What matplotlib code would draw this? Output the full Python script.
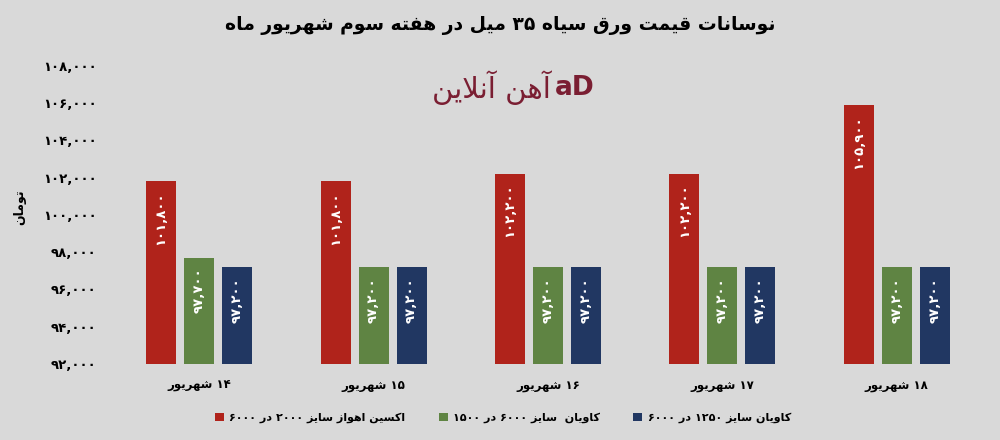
import matplotlib
matplotlib.use('Agg')
import matplotlib.pyplot as plt
import numpy as np

# data
days = ['۱۴ شهریور', '۱۵ شهریور', '۱۶ شهریور', '۱۷ شهریور', '۱۸ شهریور']
series_names = ['اکسین اهواز سایز ۲۰۰۰ در ۶۰۰۰',
                'کاویان  سایز ۶۰۰۰ در ۱۵۰۰',
                'کاویان سایز ۱۲۵۰ در ۶۰۰۰']
oxin = [101800, 101800, 102200, 102200, 105900]
kavian_1500 = [97700, 97200, 97200, 97200, 97200]
kavian_1250 = [97200, 97200, 97200, 97200, 97200]
title = 'نوسانات قیمت ورق سیاه ۳۵ میل در هفته سوم شهریور ماه'
ylabel = 'تومان'
logo_text = 'آهن آنلاین'

colors = ['#B0231B', '#5F8443', '#213762']
BG = '#D9D9D9'

# ---- minimal persian shaping (matplotlib has no bidi / shaping) ----
FORMS = {
    'ا': ('\uFE8D', '\uFE8E', None, None),
    'آ': ('\uFE81', '\uFE82', None, None),
    'د': ('\uFEA9', '\uFEAA', None, None),
    'ر': ('\uFEAD', '\uFEAE', None, None),
    'ز': ('\uFEAF', '\uFEB0', None, None),
    'و': ('\uFEED', '\uFEEE', None, None),
    'ب': ('\uFE8F', '\uFE90', '\uFE91', '\uFE92'),
    'ت': ('\uFE95', '\uFE96', '\uFE97', '\uFE98'),
    'س': ('\uFEB1', '\uFEB2', '\uFEB3', '\uFEB4'),
    'ش': ('\uFEB5', '\uFEB6', '\uFEB7', '\uFEB8'),
    'ف': ('\uFED1', '\uFED2', '\uFED3', '\uFED4'),
    'ق': ('\uFED5', '\uFED6', '\uFED7', '\uFED8'),
    'ل': ('\uFEDD', '\uFEDE', '\uFEDF', '\uFEE0'),
    'م': ('\uFEE1', '\uFEE2', '\uFEE3', '\uFEE4'),
    'ن': ('\uFEE5', '\uFEE6', '\uFEE7', '\uFEE8'),
    'ه': ('\uFEE9', '\uFEEA', '\uFEEB', '\uFEEC'),
    'ی': ('\uFBFC', '\uFBFD', '\uFBFE', '\uFBFF'),
    'ک': ('\uFB8E', '\uFB8F', '\uFB90', '\uFB91'),
}
LAM_ALEF = {'ا': ('\uFEFB', '\uFEFC'), 'آ': ('\uFEF5', '\uFEF6')}


def dual(c):
    return c in FORMS and FORMS[c][2] is not None


def shape(s):
    out = []
    i = 0
    while i < len(s):
        ch = s[i]
        if ch not in FORMS:
            out.append(ch)
            i += 1
            continue
        prev_join = i > 0 and dual(s[i - 1])
        if ch == 'ل' and i + 1 < len(s) and s[i + 1] in LAM_ALEF:
            out.append(LAM_ALEF[s[i + 1]][1 if prev_join else 0])
            i += 2
            continue
        next_join = dual(ch) and i + 1 < len(s) and s[i + 1] in FORMS
        iso, fin, ini, med = FORMS[ch]
        if prev_join and next_join:
            out.append(med)
        elif next_join:
            out.append(ini)
        elif prev_join:
            out.append(fin)
        else:
            out.append(iso)
        i += 1
    return ''.join(out)


def fa(s):
    shaped = shape(s)
    toks = shaped.split(' ')
    vis = []
    for t in toks:
        if any('\uFB50' <= c <= '\uFEFF' for c in t):
            t = t[::-1]
        vis.append(t)
    return ' '.join(vis[::-1])


PDIG = str.maketrans('0123456789', '۰۱۲۳۴۵۶۷۸۹')


def fa_num(v):
    return f'{int(v):,}'.translate(PDIG)


plt.rcParams['font.family'] = ['DejaVu Sans']
plt.rcParams['font.weight'] = 'bold'

fig = plt.figure(figsize=(10, 4.4), dpi=100, facecolor=BG)
ax = fig.add_axes([0.112, 0.173, 0.872, 0.677], facecolor=BG)

x = np.arange(len(days))
width = 0.172
offs = [-0.218, 0, 0.218]
for vals, name, col, off in zip([oxin, kavian_1500, kavian_1250], series_names, colors, offs):
    bars = ax.bar(x + off, vals, width, color=col, label=fa(name), zorder=2)
    for b, v in zip(bars, vals):
        ax.annotate(fa_num(v), (b.get_x() + b.get_width() / 2, v),
                    xytext=(0, -7), textcoords='offset points',
                    ha='center', va='top', rotation=90,
                    color='white', fontsize=9.5, fontweight='bold')

ax.set_ylim(92000, 108000)
ax.set_xlim(-0.5, len(days) - 0.5)
yt = np.arange(92000, 108001, 2000)
ax.set_yticks(yt)
ax.set_yticklabels([fa_num(v) for v in yt], fontsize=9.5, fontweight='bold')
ax.set_xticks(x)
ax.set_xticklabels([fa(d) for d in days], fontsize=8.5, fontweight='bold')
ax.tick_params(length=0, pad=11, axis='y')
ax.tick_params(length=0, pad=11, axis='x')
for sp in ax.spines.values():
    sp.set_visible(False)

fig.text(0.02, 0.53, fa(ylabel), rotation=90, ha='center', va='center', fontsize=9, fontweight='bold')
fig.text(0.5, 0.943, fa(title), ha='center', va='center', fontsize=13.5, fontweight='bold')

# logo
fig.text(0.551, 0.80, fa(logo_text), ha='right', va='center', fontsize=21, fontweight='normal', color='#7A1E32')
fig.text(0.575, 0.80, 'aD', ha='center', va='center', fontsize=19, fontweight='bold', color='#7A1E32')

leg = fig.legend(loc='center', bbox_to_anchor=(0.503, 0.05), ncol=3, frameon=False,
                 fontsize=8, handlelength=0.8, handleheight=0.8, handletextpad=0.5, columnspacing=3.0)
for t in leg.get_texts():
    t.set_fontweight('bold')

fig.savefig('out.png', dpi=100, facecolor=BG)
